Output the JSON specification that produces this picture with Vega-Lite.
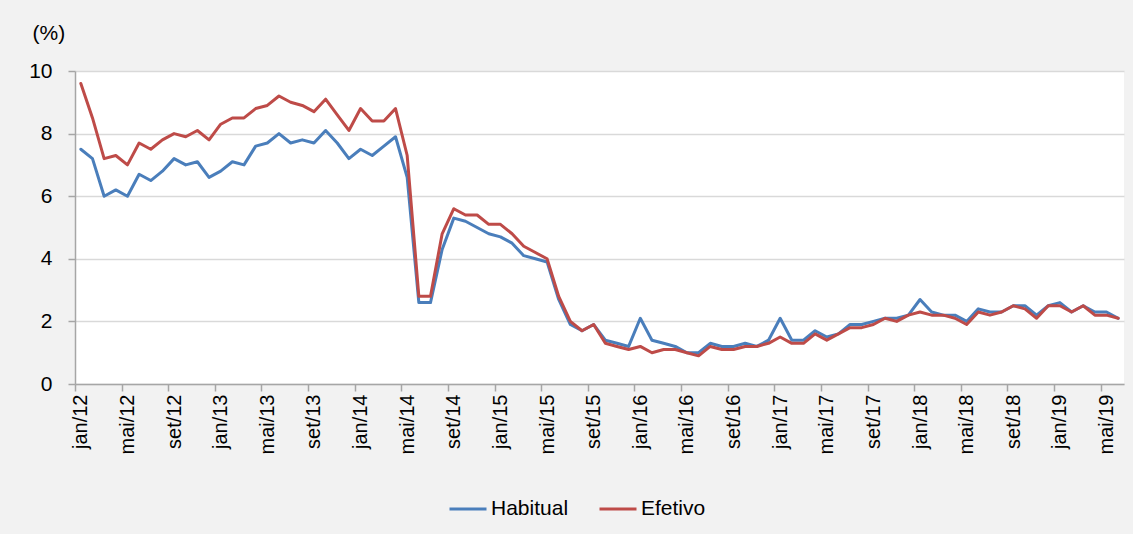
{
  "$schema": "https://vega.github.io/schema/vega-lite/v6.json",
  "autosize": {"type": "none"},
  "width": 1049,
  "height": 313,
  "padding": {"left": 75, "top": 71, "right": 9, "bottom": 150},
  "background": "#f2f2f2",
  "config": {
    "view": {"fill": "#ffffff", "stroke": null},
    "font": "Liberation Sans",
    "axis": {"labelFont": "Liberation Sans", "titleFont": "Liberation Sans", "labelColor": "#000000", "titleColor": "#000000"},
    "legend": {"labelFont": "Liberation Sans"}
  },
  "data": {
    "values": [
      {"m":"jan/12","Habitual":7.5,"Efetivo":9.6},{"m":"fev/12","Habitual":7.2,"Efetivo":8.5},{"m":"mar/12","Habitual":6.0,"Efetivo":7.2},{"m":"abr/12","Habitual":6.2,"Efetivo":7.3},{"m":"mai/12","Habitual":6.0,"Efetivo":7.0},{"m":"jun/12","Habitual":6.7,"Efetivo":7.7},{"m":"jul/12","Habitual":6.5,"Efetivo":7.5},{"m":"ago/12","Habitual":6.8,"Efetivo":7.8},{"m":"set/12","Habitual":7.2,"Efetivo":8.0},{"m":"out/12","Habitual":7.0,"Efetivo":7.9},{"m":"nov/12","Habitual":7.1,"Efetivo":8.1},{"m":"dez/12","Habitual":6.6,"Efetivo":7.8},
      {"m":"jan/13","Habitual":6.8,"Efetivo":8.3},{"m":"fev/13","Habitual":7.1,"Efetivo":8.5},{"m":"mar/13","Habitual":7.0,"Efetivo":8.5},{"m":"abr/13","Habitual":7.6,"Efetivo":8.8},{"m":"mai/13","Habitual":7.7,"Efetivo":8.9},{"m":"jun/13","Habitual":8.0,"Efetivo":9.2},{"m":"jul/13","Habitual":7.7,"Efetivo":9.0},{"m":"ago/13","Habitual":7.8,"Efetivo":8.9},{"m":"set/13","Habitual":7.7,"Efetivo":8.7},{"m":"out/13","Habitual":8.1,"Efetivo":9.1},{"m":"nov/13","Habitual":7.7,"Efetivo":8.6},{"m":"dez/13","Habitual":7.2,"Efetivo":8.1},
      {"m":"jan/14","Habitual":7.5,"Efetivo":8.8},{"m":"fev/14","Habitual":7.3,"Efetivo":8.4},{"m":"mar/14","Habitual":7.6,"Efetivo":8.4},{"m":"abr/14","Habitual":7.9,"Efetivo":8.8},{"m":"mai/14","Habitual":6.6,"Efetivo":7.3},{"m":"jun/14","Habitual":2.6,"Efetivo":2.8},{"m":"jul/14","Habitual":2.6,"Efetivo":2.8},{"m":"ago/14","Habitual":4.3,"Efetivo":4.8},{"m":"set/14","Habitual":5.3,"Efetivo":5.6},{"m":"out/14","Habitual":5.2,"Efetivo":5.4},{"m":"nov/14","Habitual":5.0,"Efetivo":5.4},{"m":"dez/14","Habitual":4.8,"Efetivo":5.1},
      {"m":"jan/15","Habitual":4.7,"Efetivo":5.1},{"m":"fev/15","Habitual":4.5,"Efetivo":4.8},{"m":"mar/15","Habitual":4.1,"Efetivo":4.4},{"m":"abr/15","Habitual":4.0,"Efetivo":4.2},{"m":"mai/15","Habitual":3.9,"Efetivo":4.0},{"m":"jun/15","Habitual":2.7,"Efetivo":2.8},{"m":"jul/15","Habitual":1.9,"Efetivo":2.0},{"m":"ago/15","Habitual":1.7,"Efetivo":1.7},{"m":"set/15","Habitual":1.9,"Efetivo":1.9},{"m":"out/15","Habitual":1.4,"Efetivo":1.3},{"m":"nov/15","Habitual":1.3,"Efetivo":1.2},{"m":"dez/15","Habitual":1.2,"Efetivo":1.1},
      {"m":"jan/16","Habitual":2.1,"Efetivo":1.2},{"m":"fev/16","Habitual":1.4,"Efetivo":1.0},{"m":"mar/16","Habitual":1.3,"Efetivo":1.1},{"m":"abr/16","Habitual":1.2,"Efetivo":1.1},{"m":"mai/16","Habitual":1.0,"Efetivo":1.0},{"m":"jun/16","Habitual":1.0,"Efetivo":0.9},{"m":"jul/16","Habitual":1.3,"Efetivo":1.2},{"m":"ago/16","Habitual":1.2,"Efetivo":1.1},{"m":"set/16","Habitual":1.2,"Efetivo":1.1},{"m":"out/16","Habitual":1.3,"Efetivo":1.2},{"m":"nov/16","Habitual":1.2,"Efetivo":1.2},{"m":"dez/16","Habitual":1.4,"Efetivo":1.3},
      {"m":"jan/17","Habitual":2.1,"Efetivo":1.5},{"m":"fev/17","Habitual":1.4,"Efetivo":1.3},{"m":"mar/17","Habitual":1.4,"Efetivo":1.3},{"m":"abr/17","Habitual":1.7,"Efetivo":1.6},{"m":"mai/17","Habitual":1.5,"Efetivo":1.4},{"m":"jun/17","Habitual":1.6,"Efetivo":1.6},{"m":"jul/17","Habitual":1.9,"Efetivo":1.8},{"m":"ago/17","Habitual":1.9,"Efetivo":1.8},{"m":"set/17","Habitual":2.0,"Efetivo":1.9},{"m":"out/17","Habitual":2.1,"Efetivo":2.1},{"m":"nov/17","Habitual":2.1,"Efetivo":2.0},{"m":"dez/17","Habitual":2.2,"Efetivo":2.2},
      {"m":"jan/18","Habitual":2.7,"Efetivo":2.3},{"m":"fev/18","Habitual":2.3,"Efetivo":2.2},{"m":"mar/18","Habitual":2.2,"Efetivo":2.2},{"m":"abr/18","Habitual":2.2,"Efetivo":2.1},{"m":"mai/18","Habitual":2.0,"Efetivo":1.9},{"m":"jun/18","Habitual":2.4,"Efetivo":2.3},{"m":"jul/18","Habitual":2.3,"Efetivo":2.2},{"m":"ago/18","Habitual":2.3,"Efetivo":2.3},{"m":"set/18","Habitual":2.5,"Efetivo":2.5},{"m":"out/18","Habitual":2.5,"Efetivo":2.4},{"m":"nov/18","Habitual":2.2,"Efetivo":2.1},{"m":"dez/18","Habitual":2.5,"Efetivo":2.5},
      {"m":"jan/19","Habitual":2.6,"Efetivo":2.5},{"m":"fev/19","Habitual":2.3,"Efetivo":2.3},{"m":"mar/19","Habitual":2.5,"Efetivo":2.5},{"m":"abr/19","Habitual":2.3,"Efetivo":2.2},{"m":"mai/19","Habitual":2.3,"Efetivo":2.2},{"m":"jun/19","Habitual":2.1,"Efetivo":2.1}
    ]
  },
  "transform": [{"fold": ["Habitual", "Efetivo"], "as": ["serie", "valor"]}],
  "mark": {"type": "line", "strokeWidth": 3, "strokeJoin": "round", "strokeCap": "round"},
  "encoding": {
    "x": {
      "field": "m", "type": "ordinal", "sort": null,
      "scale": {"type": "point", "padding": 0.5},
      "axis": {
        "title": null,
        "values": ["jan/12","mai/12","set/12","jan/13","mai/13","set/13","jan/14","mai/14","set/14","jan/15","mai/15","set/15","jan/16","mai/16","set/16","jan/17","mai/17","set/17","jan/18","mai/18","set/18","jan/19","mai/19"],
        "labelAngle": -90, "labelAlign": "right", "labelBaseline": "middle",
        "labelFontSize": 20, "labelPadding": 3,
        "tickOffset": -5.83, "labelOffset": 5.83,
        "tickSize": 7, "tickColor": "#a6a6a6", "tickWidth": 1.5,
        "domainColor": "#a6a6a6", "domainWidth": 1.5,
        "grid": false, "labelOverlap": false
      }
    },
    "y": {
      "field": "valor", "type": "quantitative",
      "scale": {"domain": [0, 10], "nice": false, "zero": true},
      "axis": {
        "values": [0, 2, 4, 6, 8, 10], "format": "d",
        "labelFontSize": 21, "labelPadding": 16,
        "tickSize": 7, "tickColor": "#a6a6a6", "tickWidth": 1.5,
        "domainColor": "#a6a6a6", "domainWidth": 1.5,
        "grid": true, "gridColor": "#d9d9d9", "gridWidth": 1.3,
        "title": "(%)", "titleAngle": 0, "titleX": -43, "titleY": -38,
        "titleAlign": "left", "titleBaseline": "middle",
        "titleFontSize": 21, "titleFontWeight": "normal"
      }
    },
    "color": {
      "field": "serie", "type": "nominal",
      "scale": {"domain": ["Habitual", "Efetivo"], "range": ["#4a7ebb", "#be4b48"]},
      "legend": {
        "title": null, "orient": "none", "direction": "horizontal",
        "legendX": 373, "legendY": 418,
        "symbolType": "stroke", "symbolSize": 1369, "symbolStrokeWidth": 3,
        "labelFontSize": 21, "labelOffset": 3, "columnPadding": 24,
        "labelColor": "#000000"
      }
    }
  }
}
